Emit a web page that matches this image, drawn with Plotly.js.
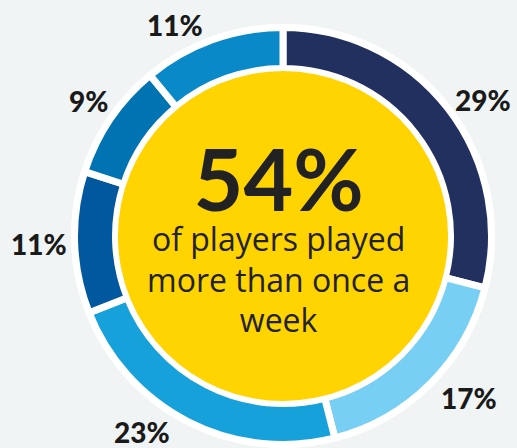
<!DOCTYPE html>
<html><head><meta charset="utf-8">
<script src="https://cdn.plot.ly/plotly-3.0.1.min.js"></script>
<style>html,body{margin:0;padding:0;background:#f0f4f5;}#chart{width:517px;height:448px;}</style>
</head><body><div id="chart"></div>
<script>
// Data
const categories = ['A','B','C','D','E','F'];
const shares = [29, 17, 23, 11, 9, 11];
const sliceColors = ['#22305f','#78cff4','#17a1da','#02589e','#0073b2','#0a89c9'];
const headline = '54%';
const subtitleLines = ['of players played','more than once a','week'];

// Layout helpers
const W = 517, H = 448;
const cx = 283, cy = 236;           // pixel centre (from top)
function dom(r){
  const py = H - cy;
  return {x:[(cx-r)/W,(cx+r)/W], y:[Math.max(0,(py-r))/H,(py+r)/H]};
}
const gapW = 7;
const outerR = 205 + gapW/2, innerR = 171 - gapW/2;
const labelPos = [[483,100],[469,398],[142,432],[39,244],[88,101],[175,25]];

const traces = [
  {type:'pie', values:[1], labels:['bg'], marker:{colors:['#ffffff']}, domain:dom(212),
   textinfo:'none', hoverinfo:'skip', showlegend:false, sort:false},
  {type:'pie', values:shares, labels:categories, marker:{colors:sliceColors, line:{color:'#ffffff', width:gapW}},
   hole: innerR/outerR, domain:dom(outerR), sort:false, direction:'clockwise', rotation:0,
   textinfo:'none', hoverinfo:'label+value', showlegend:false},
  {type:'pie', values:[1], labels:['core'], marker:{colors:['#ffd400']}, domain:dom(165),
   textinfo:'none', hoverinfo:'skip', showlegend:false, sort:false}
];

const annotations = shares.map((v,i)=>({
  text: v+'%', x: labelPos[i][0]/W, y: (H-labelPos[i][1])/H, xref:'paper', yref:'paper',
  xanchor:'center', yanchor:'middle', showarrow:false,
  font:{family:'Lato, "Open Sans", sans-serif', size:28, color:'#1a1a1a', weight:900}
}));
const centreText = '<span style="font-family:Lato;font-size:86px;font-weight:bold">' + headline + '</span><br>' +
  subtitleLines.map(t => '<span style="font-size:32px">' + t + '</span>').join('<br>');
annotations.push({text: centreText, x:278/W, y:(H-233)/H, xref:'paper', yref:'paper', xanchor:'center', yanchor:'middle',
  showarrow:false, font:{family:'"Open Sans", Lato, sans-serif', size:31, color:'#222222'}});

Plotly.newPlot('chart', traces, {
  width:W, height:H, margin:{l:0,r:0,t:0,b:0}, paper_bgcolor:'#f0f4f5', plot_bgcolor:'#f0f4f5',
  showlegend:false, annotations
}, {displayModeBar:false, staticPlot:true});
</script></body></html>
